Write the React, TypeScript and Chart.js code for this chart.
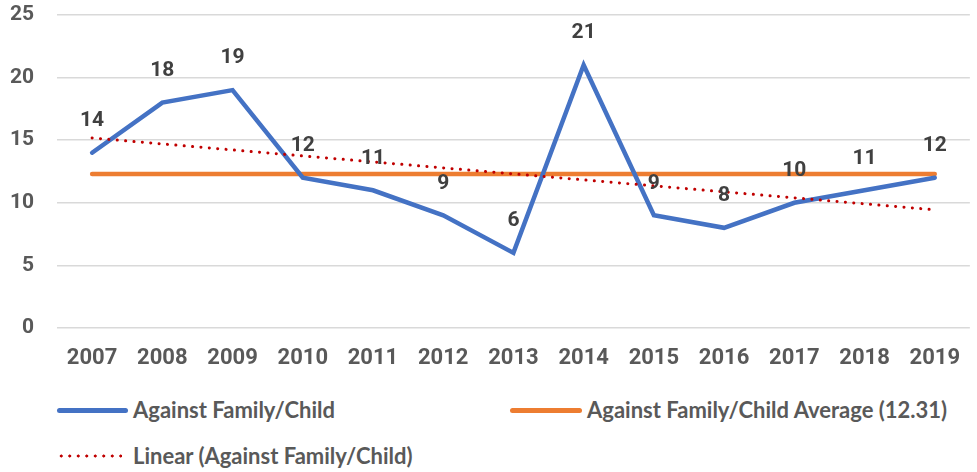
import React, { useEffect, useRef } from "react";
import { Chart, registerables } from "chart.js";

Chart.register(...registerables);

const years = ["2007", "2008", "2009", "2010", "2011", "2012", "2013", "2014", "2015", "2016", "2017", "2018", "2019"];
const familyChild = [14, 18, 19, 12, 11, 9, 6, 21, 9, 8, 10, 11, 12];
const averageValue = 12.31;
const averageLine = [12.31, 12.31, 12.31, 12.31, 12.31, 12.31, 12.31, 12.31, 12.31, 12.31, 12.31, 12.31, 12.31];
// linear trend endpoints; middle points left empty, gaps spanned
const trendLine = [15.18, null, null, null, null, null, null, null, null, null, null, null, 9.44];
const yTicks = [0, 5, 10, 15, 20, 25];

const CANVAS_FONT = "Roboto, 'Liberation Sans', sans-serif";
const LEGEND_FONT = "Lato, Roboto, sans-serif";
const TEXT = "#595959";

const labelPlugin = {
  id: "pointLabels",
  afterDatasetsDraw(chart: any) {
    const ctx = chart.ctx;
    const meta = chart.getDatasetMeta(0);
    ctx.save();
    ctx.font = `bold 21px ${CANVAS_FONT}`;
    ctx.fillStyle = "#404040";
    ctx.textAlign = "center";
    ctx.textBaseline = "middle";
    meta.data.forEach((pt: any, i: number) => {
      ctx.fillText(String(familyChild[i]), pt.x, pt.y - 32);
    });
    ctx.restore();
  },
};

export default function App() {
  const ref = useRef<HTMLCanvasElement | null>(null);
  useEffect(() => {
    document.body.style.margin = "0";
    const chart = new Chart(ref.current!, {
      type: "line",
      data: {
        labels: years,
        datasets: [
          {
            label: "Against Family/Child",
            data: familyChild,
            borderColor: "#4472C4",
            borderWidth: 4.5,
            pointRadius: 0,
            tension: 0,
            borderCapStyle: "round",
            borderJoinStyle: "miter",
            order: 1,
          },
          {
            label: `Against Family/Child Average (${averageValue})`,
            data: averageLine,
            borderColor: "#ED7D31",
            borderWidth: 4.5,
            pointRadius: 0,
            borderCapStyle: "round",
            order: 2,
          },
          {
            label: "Linear (Against Family/Child)",
            data: trendLine as any,
            borderColor: "#C00000",
            borderWidth: 3,
            borderDash: [0.1, 8.3],
            borderCapStyle: "round",
            pointRadius: 0,
            spanGaps: true,
            order: 0,
          },
        ],
      },
      options: {
        animation: false,
        responsive: false,
        layout: { padding: { left: 0, right: 0, top: 15, bottom: 0 } },
        plugins: { legend: { display: false }, tooltip: { enabled: false } },
        scales: {
          x: {
            offset: true,
            grid: { display: false, drawTicks: false },
            border: { display: false },
            ticks: { color: TEXT, font: { family: CANVAS_FONT, size: 22, weight: "bold" }, padding: 17, maxRotation: 0, autoSkip: false },
            afterFit: (axis: any) => {
              axis.height = 57;
            },
          },
          y: {
            min: 0,
            max: 25,
            afterBuildTicks: (axis: any) => {
              axis.ticks = yTicks.map((v) => ({ value: v }));
            },
            grid: { color: "#D9D9D9", lineWidth: 1.5, drawTicks: false },
            border: { display: false },
            ticks: { color: TEXT, font: { family: CANVAS_FONT, size: 21, weight: "bold" }, padding: 23 },
            afterFit: (axis: any) => {
              axis.width = 57;
              axis.paddingTop = 0;
              axis.paddingBottom = 0;
            },
          },
        },
      },
      plugins: [labelPlugin],
    });
    return () => {
      chart.destroy();
    };
  }, []);

  const legendText: React.CSSProperties = {
    fontFamily: LEGEND_FONT,
    fontWeight: "bold",
    fontSize: 22,
    color: TEXT,
    position: "absolute",
    whiteSpace: "nowrap",
    lineHeight: "26px",
  };

  return (
    <div style={{ position: "relative", width: 977, height: 472, background: "#fff" }}>
      <canvas ref={ref} width={977} height={385} style={{ display: "block" }} />
      <div style={{ position: "absolute", left: 57, top: 408, width: 71, height: 5, borderRadius: 3, background: "#4472C4" }} />
      <div style={{ ...legendText, left: 133, top: 397 }}>Against Family/Child</div>
      <div style={{ position: "absolute", left: 510, top: 408, width: 72, height: 5, borderRadius: 3, background: "#ED7D31" }} />
      <div style={{ ...legendText, left: 587, top: 397 }}>{`Against Family/Child Average (${averageValue})`}</div>
      <div
        style={{
          position: "absolute",
          left: 57,
          top: 454,
          width: 65,
          height: 4,
          backgroundImage: "radial-gradient(circle, #C00000 1.4px, transparent 1.7px)",
          backgroundSize: "8.5px 4px",
        }}
      />
      <div style={{ ...legendText, left: 133, top: 443 }}>Linear (Against Family/Child)</div>
    </div>
  );
}
